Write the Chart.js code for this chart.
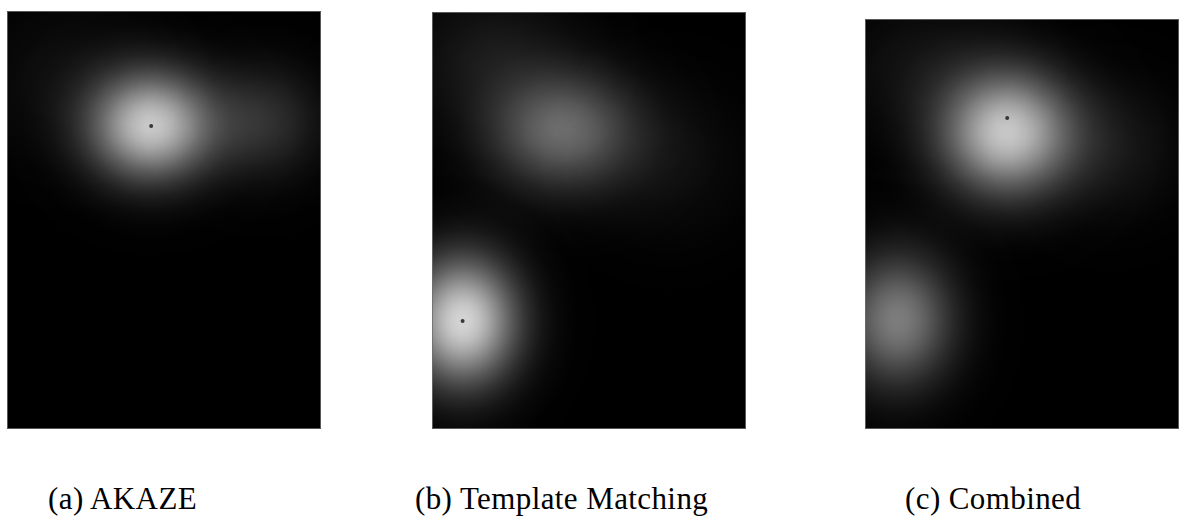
<!DOCTYPE html>
<html>
<head>
<meta charset="utf-8">
<script src="https://cdn.jsdelivr.net/npm/chart.js@4/dist/chart.umd.min.js"></script>
<style>
  html, body { margin:0; padding:0; background:#fff; width:1182px; height:521px; overflow:hidden; }
  .panel { position:absolute; }
  .cap { position:absolute; font-family:"Liberation Serif","Times New Roman",serif; font-size:31px; letter-spacing:0.4px; color:#000; white-space:nowrap; line-height:31px; }
</style>
</head>
<body>
<canvas id="pa" class="panel" width="318" height="422" style="left:5px;top:9px;"></canvas>
<canvas id="pb" class="panel" width="318" height="421" style="left:430px;top:10px;"></canvas>
<canvas id="pc" class="panel" width="318" height="414" style="left:863px;top:17px;"></canvas>
<div class="cap" id="capA" style="left:48px;top:483px;"></div>
<div class="cap" id="capB" style="left:415px;top:483px;"></div>
<div class="cap" id="capC" style="left:905px;top:483px;"></div>
<script>
// ---- data (panel pixel coordinates, y downward) ----
const captions = ["(a) AKAZE", "(b) Template Matching", "(c) Combined"];
const panelSizes = [[318, 422], [318, 421], [318, 414]];

// response blobs: centre x, centre y, spread sx, spread sy, peak intensity (0-255)
const akazeBlobs = [
  {x:146, y:116, sx:42, sy:37, v:196},
  {x:258, y:112, sx:40, sy:38, v:48},
  {x:60,  y:70,  sx:55, sy:50, v:14}
];
const templateBlobs = [
  {x:132, y:120, sx:50, sy:40, v:104},
  {x:60,  y:45,  sx:55, sy:45, v:24},
  {x:31,  y:312, sx:38, sy:44, v:212},
  {x:240, y:150, sx:50, sy:50, v:14}
];
const combinedBlobs = [
  {x:144, y:115, sx:45, sy:42, v:196},
  {x:60,  y:50,  sx:55, sy:45, v:18},
  {x:33,  y:304, sx:38, sy:45, v:124},
  {x:250, y:130, sx:45, sy:45, v:22}
];
// detected keypoint markers
const akazePeaks = [{x:146, y:116}];
const templatePeaks = [{x:31, y:312}];
const combinedPeaks = [{x:144, y:100}];

document.getElementById('capA').textContent = captions[0];
document.getElementById('capB').textContent = captions[1];
document.getElementById('capC').textContent = captions[2];

const heatPlugin = {
  id: 'heat',
  beforeDatasetsDraw(chart, args, opts) {
    const ctx = chart.ctx, a = chart.chartArea;
    const xs = chart.scales.x, ys = chart.scales.y;
    ctx.save();
    ctx.beginPath();
    ctx.rect(a.left, a.top, a.right - a.left, a.bottom - a.top);
    ctx.clip();
    ctx.fillStyle = '#000';
    ctx.fillRect(a.left, a.top, a.right - a.left, a.bottom - a.top);
    ctx.globalCompositeOperation = 'lighter';
    for (const b of opts.blobs) {
      const px = xs.getPixelForValue(b.x), py = ys.getPixelForValue(b.y);
      const rx = Math.abs(xs.getPixelForValue(b.x + b.sx) - px);
      const ry = Math.abs(ys.getPixelForValue(b.y + b.sy) - py);
      const R = rx * 3.6;
      ctx.save();
      ctx.translate(px, py);
      ctx.scale(1, ry / rx);
      const g = ctx.createRadialGradient(0, 0, 0, 0, 0, R);
      const N = 24;
      for (let i = 0; i <= N; i++) {
        const t = i / N, r = t * R;
        const al = (b.v / 255) * Math.exp(-(r * r) / (2 * rx * rx));
        g.addColorStop(t, 'rgba(255,255,255,' + al.toFixed(4) + ')');
      }
      ctx.fillStyle = g;
      ctx.beginPath();
      ctx.arc(0, 0, R, 0, Math.PI * 2);
      ctx.fill();
      ctx.restore();
    }
    ctx.globalCompositeOperation = 'source-over';
    ctx.strokeStyle = 'rgba(110,110,110,0.8)';
    ctx.lineWidth = 1;
    ctx.strokeRect(a.left + 0.5, a.top + 0.5, a.right - a.left - 1, a.bottom - a.top - 1);
    ctx.restore();
  }
};

function makePanel(id, size, blobs, peaks) {
  new Chart(document.getElementById(id), {
    type: 'scatter',
    data: { datasets: [{
      data: peaks,
      pointRadius: 2,
      pointHoverRadius: 2,
      pointBorderWidth: 0,
      pointBackgroundColor: '#383838'
    }]},
    options: {
      responsive: false,
      animation: false,
      devicePixelRatio: 1,
      layout: { padding: 0 },
      events: [],
      scales: {
        x: { type:'linear', min:0, max:size[0], display:false },
        y: { type:'linear', min:0, max:size[1], reverse:true, display:false }
      },
      plugins: { legend:{display:false}, tooltip:{enabled:false}, heat:{ blobs: blobs } }
    },
    plugins: [heatPlugin]
  });
}
makePanel('pa', panelSizes[0], akazeBlobs, akazePeaks);
makePanel('pb', panelSizes[1], templateBlobs, templatePeaks);
makePanel('pc', panelSizes[2], combinedBlobs, combinedPeaks);
</script>
</body>
</html>
